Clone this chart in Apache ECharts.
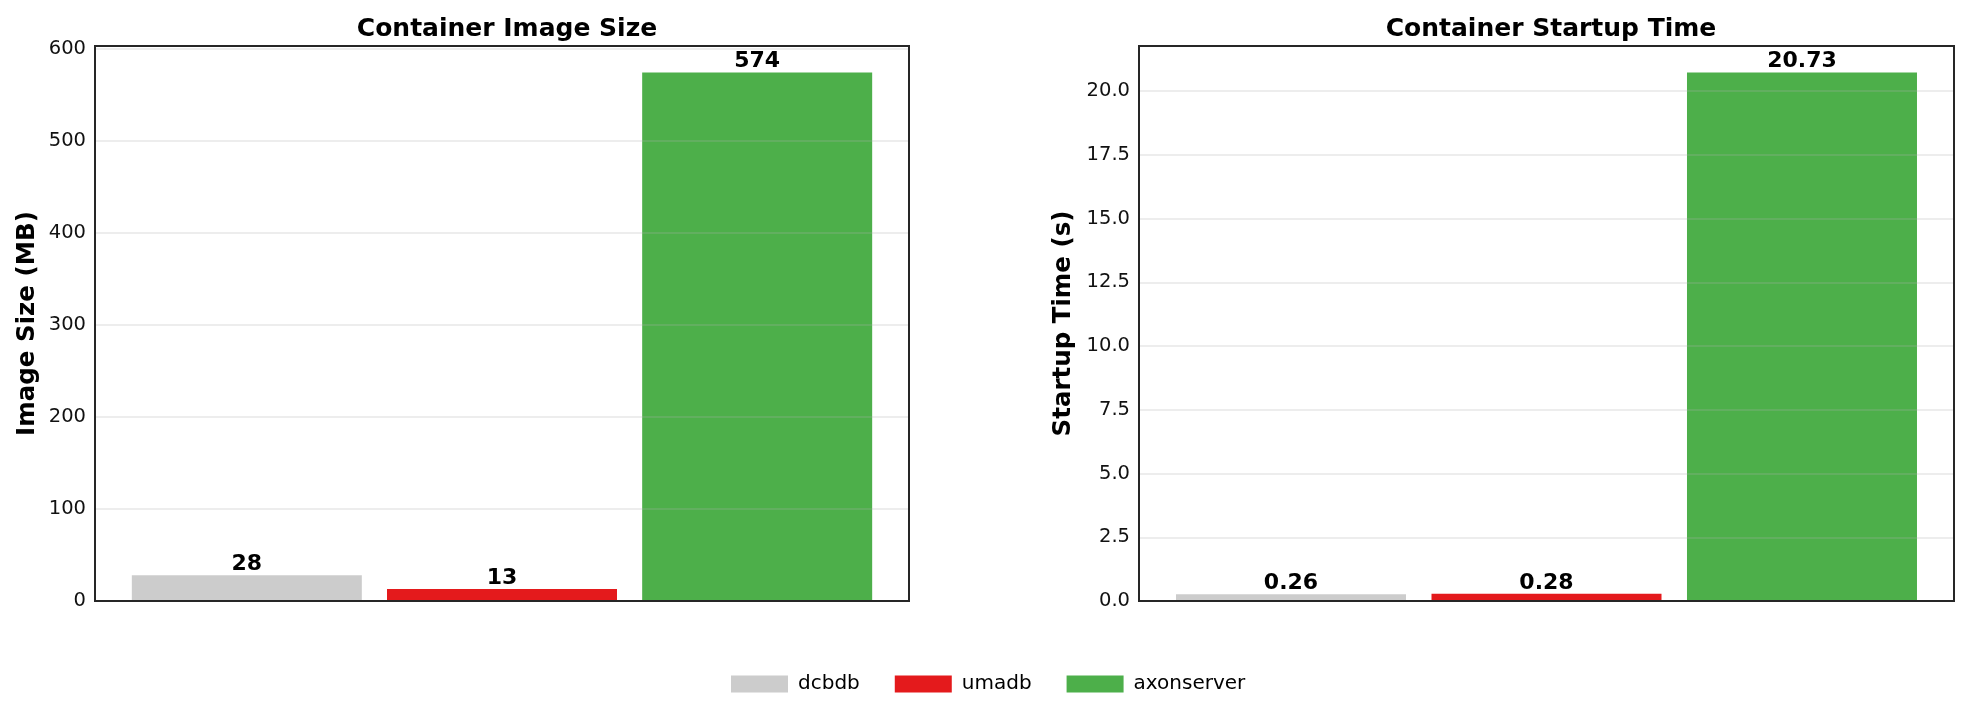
<!DOCTYPE html>
<html>
<head>
<meta charset="utf-8">
<script src="https://cdn.jsdelivr.net/npm/echarts@6/dist/echarts.min.js"></script>
<style>
html,body{margin:0;padding:0;background:#fff;}
#chart{width:1969px;height:718px;}
</style>
</head>
<body>
<div id="chart"></div>
<script>
// ---- data ----
const categories = ['dcbdb', 'umadb', 'axonserver'];
const imageSizeMB = [28, 13, 574];
const startupTimeS = [0.26, 0.28, 20.73];
const barColors = ['#cccccc', '#e41a1c', '#4daf4a'];
const imageSizeTicks = { min: 0, max: 602.7, interval: 100 };
const startupTicks = { min: 0, max: 21.7665, interval: 2.5 };

const FONT = 'DejaVu Sans';
const chart = echarts.init(document.getElementById('chart'), null, { renderer: 'canvas' });

function makeSeries(values, idx, fmt) {
  return categories.map((name, i) => ({
    name: name,
    type: 'bar',
    xAxisIndex: idx,
    yAxisIndex: idx,
    barWidth: 230,
    barGap: '-100%',
    itemStyle: { color: barColors[i] },
    label: {
      show: true,
      position: 'top',
      distance: 0,
      color: '#000',
      fontFamily: FONT,
      fontWeight: 'bold',
      fontSize: 22,
      formatter: (p) => fmt(p.value[1])
    },
    data: [[i, values[i]]],
    z: 2
  }));
}

const yAxisCommon = {
  type: 'value',
  nameLocation: 'middle',
  nameRotate: 90,
  nameTextStyle: { fontFamily: FONT, fontWeight: 'bold', fontSize: 24.5, color: '#000' },
  axisLine: { show: false },
  axisTick: { show: false },
  axisLabel: { fontFamily: FONT, fontSize: 19.5, color: '#111', margin: 9, showMaxLabel: false },
  splitLine: { show: true, lineStyle: { color: 'rgba(176,176,176,0.3)', width: 1.5 } },
  z: 3
};

const xAxisCommon = {
  type: 'value',
  min: -0.595,
  max: 2.595,
  axisLine: { show: false },
  axisTick: { show: false },
  axisLabel: { show: false },
  splitLine: { show: false }
};

const titleStyle = { fontFamily: FONT, fontWeight: 'bold', fontSize: 25, color: '#000' };

const option = {
  backgroundColor: '#fff',
  animation: false,
  title: [
    { text: 'Container Image Size', left: 502, top: 12, textAlign: 'center', textStyle: titleStyle },
    { text: 'Container Startup Time', left: 1546, top: 12, textAlign: 'center', textStyle: titleStyle }
  ],
  legend: {
    data: categories,
    top: 674,
    left: 731,
    padding: 0,
    itemWidth: 57,
    itemHeight: 17,
    itemGap: 35,
    icon: 'rect',
    textStyle: { fontFamily: FONT, fontSize: 20, color: '#000', padding: [0, 0, 0, 5] }
  },
  grid: [
    { left: 95, right: 1060, top: 46, bottom: 117, show: true, borderColor: '#262626', borderWidth: 2, backgroundColor: 'transparent', z: 4 },
    { left: 1139, right: 15, top: 46, bottom: 117, show: true, borderColor: '#262626', borderWidth: 2, backgroundColor: 'transparent', z: 4 }
  ],
  xAxis: [
    Object.assign({ gridIndex: 0 }, xAxisCommon),
    Object.assign({ gridIndex: 1 }, xAxisCommon)
  ],
  yAxis: [
    Object.assign({}, yAxisCommon, {
      gridIndex: 0, name: 'Image Size (MB)', nameGap: 55,
      min: imageSizeTicks.min, max: imageSizeTicks.max, interval: imageSizeTicks.interval
    }),
    Object.assign({}, yAxisCommon, {
      gridIndex: 1, name: 'Startup Time (s)', nameGap: 63,
      min: startupTicks.min, max: startupTicks.max, interval: startupTicks.interval,
      axisLabel: Object.assign({}, yAxisCommon.axisLabel, { formatter: (v) => v.toFixed(1) })
    })
  ],
  series: [
    ...makeSeries(imageSizeMB, 0, (v) => String(Math.round(v))),
    ...makeSeries(startupTimeS, 1, (v) => v.toFixed(2))
  ]
};

chart.setOption(option);
</script>
</body>
</html>
